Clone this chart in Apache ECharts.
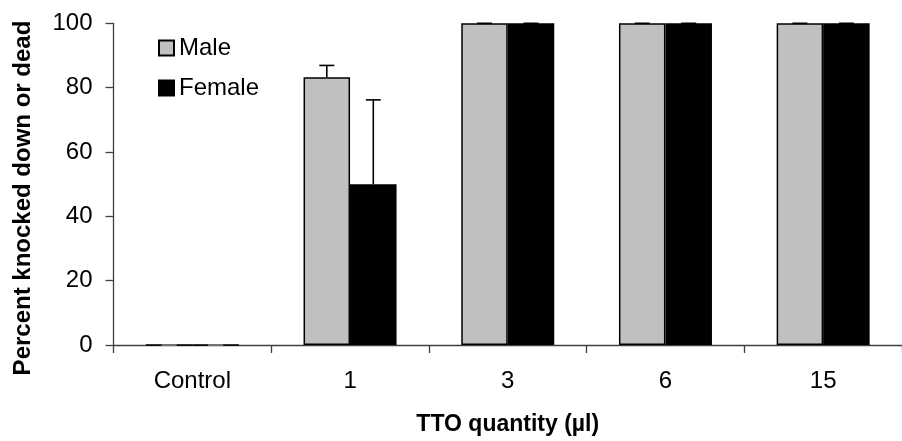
<!DOCTYPE html>
<html>
<head>
<meta charset="utf-8">
<script src="https://cdn.jsdelivr.net/npm/echarts@6/dist/echarts.min.js"></script>
<style>
  html, body { margin: 0; padding: 0; background: #fff; }
  #chart { width: 902px; height: 441px; }
</style>
</head>
<body>
<div id="chart"></div>
<script>
// TTO dose categories and mortality results
const categories = ['Control', '1', '3', '6', '15'];
const maleValues = [0, 83.2, 100, 100, 100];
const maleErrors = [0, 3.7, 0, 0, 0];
const femaleValues = [0, 50, 100, 100, 100];
const femaleErrors = [0, 26.2, 0, 0, 0];
const yTicks = [0, 20, 40, 60, 80, 100];

const FONT = '"Liberation Sans", Arial, sans-serif';
const BAR_W = 46.5;

// draws an upward error whisker with a cap, offset to sit above its bar
function errorRenderer(values, errors, offset) {
  return function (params, api) {
    const i = api.value(0);
    const top = api.coord([i, values[i] + errors[i]]);
    const base = api.coord([i, values[i]]);
    const x = top[0] + offset;
    const half = 7.5;
    const col = values[i] === 0 ? '#888' : '#000';
    return {
      type: 'group',
      children: [
        { type: 'line', shape: { x1: x, y1: base[1], x2: x, y2: top[1] },
          style: { stroke: col, lineWidth: 1.6 } },
        { type: 'line', shape: { x1: x - half, y1: top[1], x2: x + half, y2: top[1] },
          style: { stroke: col, lineWidth: 1.6 } }
      ]
    };
  };
}

const chart = echarts.init(document.getElementById('chart'), null, { renderer: 'canvas' });
chart.setOption({
  animation: false,
  backgroundColor: '#fff',
  grid: { left: 113.5, top: 23.3, width: 797.5, height: 322.2, containLabel: false },
  legend: {
    orient: 'vertical',
    left: 153, top: 31,
    itemWidth: 15, itemHeight: 15, itemGap: 16, itemTextGap: 8,
    icon: 'rect',
    textStyle: { fontFamily: FONT, fontSize: 24, color: '#000' },
    data: ['Male', 'Female']
  },
  graphic: [{
    type: 'text',
    x: 23, y: 198,
    rotation: Math.PI / 2,
    style: {
      text: 'Percent knocked down or dead',
      font: 'bold 24px "Liberation Sans", Arial, sans-serif',
      fill: '#000',
      align: 'center',
      verticalAlign: 'middle'
    }
  }],
  xAxis: {
    type: 'category',
    data: categories,
    name: 'TTO quantity (µl)',
    nameLocation: 'middle',
    nameGap: 68,
    nameTextStyle: { fontFamily: FONT, fontSize: 23, fontWeight: 'bold', color: '#000' },
    axisLine: { lineStyle: { color: '#404040', width: 1.3 } },
    axisTick: { show: true, length: 8, lineStyle: { color: '#404040', width: 1.3 } },
    axisLabel: { fontFamily: FONT, fontSize: 24, color: '#000', margin: 24 }
  },
  yAxis: {
    type: 'value',
    min: 0, max: 100, interval: 20,
    axisLine: { show: true, lineStyle: { color: '#404040', width: 1.3 } },
    axisTick: { show: true, length: 8, lineStyle: { color: '#404040', width: 1.3 } },
    axisLabel: {
      fontFamily: FONT, fontSize: 24, color: '#000', margin: 21,
      formatter: v => (yTicks.includes(v) ? String(v) : '')
    },
    splitLine: { show: false }
  },
  series: [
    {
      name: 'Male', type: 'bar', data: maleValues,
      barWidth: BAR_W, barGap: '0%',
      itemStyle: { color: '#C0C0C0', borderColor: '#000', borderWidth: 1.5 }
    },
    {
      name: 'Female', type: 'bar', data: femaleValues,
      barWidth: BAR_W, barGap: '0%',
      itemStyle: { color: '#000', borderColor: '#000', borderWidth: 1.5 }
    },
    {
      name: 'Male error', type: 'custom',
      data: categories.map((c, i) => [i, maleValues[i] + maleErrors[i]]),
      renderItem: errorRenderer(maleValues, maleErrors, -BAR_W / 2),
      z: 5
    },
    {
      name: 'Female error', type: 'custom',
      data: categories.map((c, i) => [i, femaleValues[i] + femaleErrors[i]]),
      renderItem: errorRenderer(femaleValues, femaleErrors, BAR_W / 2),
      z: 5
    }
  ]
});
</script>
</body>
</html>
